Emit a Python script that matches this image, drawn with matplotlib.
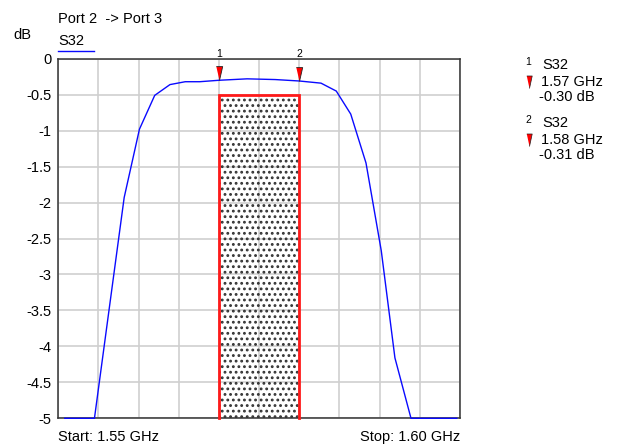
import matplotlib
matplotlib.use("Agg")
import matplotlib.pyplot as plt
import numpy as np

plt.rcParams['font.family'] = ['Liberation Sans', 'DejaVu Sans']
plt.rcParams['hatch.linewidth'] = 1.25

# ---- data ----
freq_ghz = [1.5508, 1.5545, 1.5582, 1.5601, 1.5620, 1.5639, 1.5658, 1.5676,
            1.5700, 1.5735, 1.5770, 1.5800, 1.5827, 1.5846, 1.5864, 1.5883,
            1.5902, 1.5919, 1.5939, 1.5996]
s32_db = [-5.0, -5.0, -1.93, -0.98, -0.51, -0.36, -0.32, -0.32,
          -0.30, -0.28, -0.29, -0.31, -0.34, -0.45, -0.77, -1.45,
          -2.67, -4.16, -5.0, -5.0]
marker_ids = ["1", "2"]
marker_freq = [1.57, 1.58]
marker_db = [-0.30, -0.31]
mask_lo, mask_hi, mask_top = 1.57, 1.58, -0.5
yticks = [0, -0.5, -1, -1.5, -2, -2.5, -3, -3.5, -4, -4.5, -5]
ytick_labels = ["0", "-0.5", "-1", "-1.5", "-2", "-2.5", "-3", "-3.5", "-4", "-4.5", "-5"]
f_start, f_stop = 1.55, 1.60

W, H = 621, 447
fig = plt.figure(figsize=(W / 100, H / 100), dpi=100)
L, R, T, B = 58.3, 460.0, 58.7, 418.3
ax = fig.add_axes([L / W, 1 - B / H, (R - L) / W, (B - T) / H])

def fx(x):
    return x / W

def fy(y):
    return 1 - y / H

FS = 10.5

ax.set_xlim(f_start, f_stop)
ax.set_ylim(-5, 0)
ax.set_xticks(np.linspace(f_start, f_stop, 11))
ax.set_xticklabels([])
ax.set_yticks(yticks)
ax.set_yticklabels(ytick_labels, fontsize=FS)
ax.tick_params(axis='both', length=0, pad=5)
ax.grid(True, color='#cfcfcf', lw=1.2)
ax.set_axisbelow(True)
for s in ax.spines.values():
    s.set_color('#333333')
    s.set_linewidth(1.1)

# mask region: dotted fill + red outline
ax.fill_between([mask_lo, mask_hi], [mask_top, mask_top], [-5, -5],
                facecolor='none', edgecolor='#333333', hatch='...', lw=0, zorder=2)
ax.plot([mask_lo, mask_lo, mask_hi, mask_hi], [-5, mask_top, mask_top, -5],
        color='#ff1a1a', lw=2.0, zorder=3, clip_on=False, solid_joinstyle='miter')

# trace
ax.plot(freq_ghz, s32_db, color='#0a0aff', lw=1.0, zorder=4, clip_on=False)

# markers on trace (tip at the point)
tri = [(-3.2, 14), (3.2, 14), (0, 0)]
for mid, mf, md in zip(marker_ids, marker_freq, marker_db):
    ax.plot([mf], [md], marker=tri, markersize=20, color='#ff0000',
            markeredgecolor='#222222', markeredgewidth=0.6, zorder=5, clip_on=False)
    ax.annotate(mid, xy=(mf, 1), xycoords=('data', 'axes fraction'),
                xytext=(0, 1.5), textcoords='offset points',
                ha='center', va='baseline', fontsize=7.5)

# header texts
fig.text(fx(58.3), fy(22.7), "Port 2  -> Port 3", fontsize=FS, va='baseline', ha='left')
fig.text(fx(13.5), fy(39.3), "dB", fontsize=FS, va='baseline', ha='left')
fig.text(fx(58.3), fy(45.3), "S32", fontsize=FS, va='baseline', ha='left')
fig.add_artist(plt.Line2D([fx(58.3), fx(94)], [fy(51), fy(51)], color='#0a0aff', lw=1.0))

# footer
fig.text(fx(58.3), fy(441), f"Start: {f_start:.2f} GHz", fontsize=FS, va='baseline', ha='left')
fig.text(fx(460), fy(441), f"Stop: {f_stop:.2f} GHz", fontsize=FS, va='baseline', ha='right')

# marker readout panel
tri2 = [(-2.6, 12), (2.6, 12), (0, 0)]
for i, (mid, mf, md) in enumerate(zip(marker_ids, marker_freq, marker_db)):
    dy = 58 * i
    fig.text(fx(528.3), fy(65 + dy), mid, fontsize=7.5, ha='center', va='baseline')
    fig.text(fx(542.7), fy(69.3 + dy), "S32", fontsize=FS, ha='left', va='baseline')
    fig.text(fx(540.7), fy(85.7 + dy), f"{mf:.2f} GHz", fontsize=FS, ha='left', va='baseline')
    fig.text(fx(539.3), fy(101 + dy), f"{md:.2f} dB", fontsize=FS, ha='left', va='baseline')
    fig.add_artist(plt.Line2D([fx(529)], [fy(88.3 + dy)], marker=tri2, markersize=18,
                              color='#ff0000', markeredgecolor='#222222',
                              markeredgewidth=0.5, linestyle='none'))

fig.savefig("out.png", dpi=100)
